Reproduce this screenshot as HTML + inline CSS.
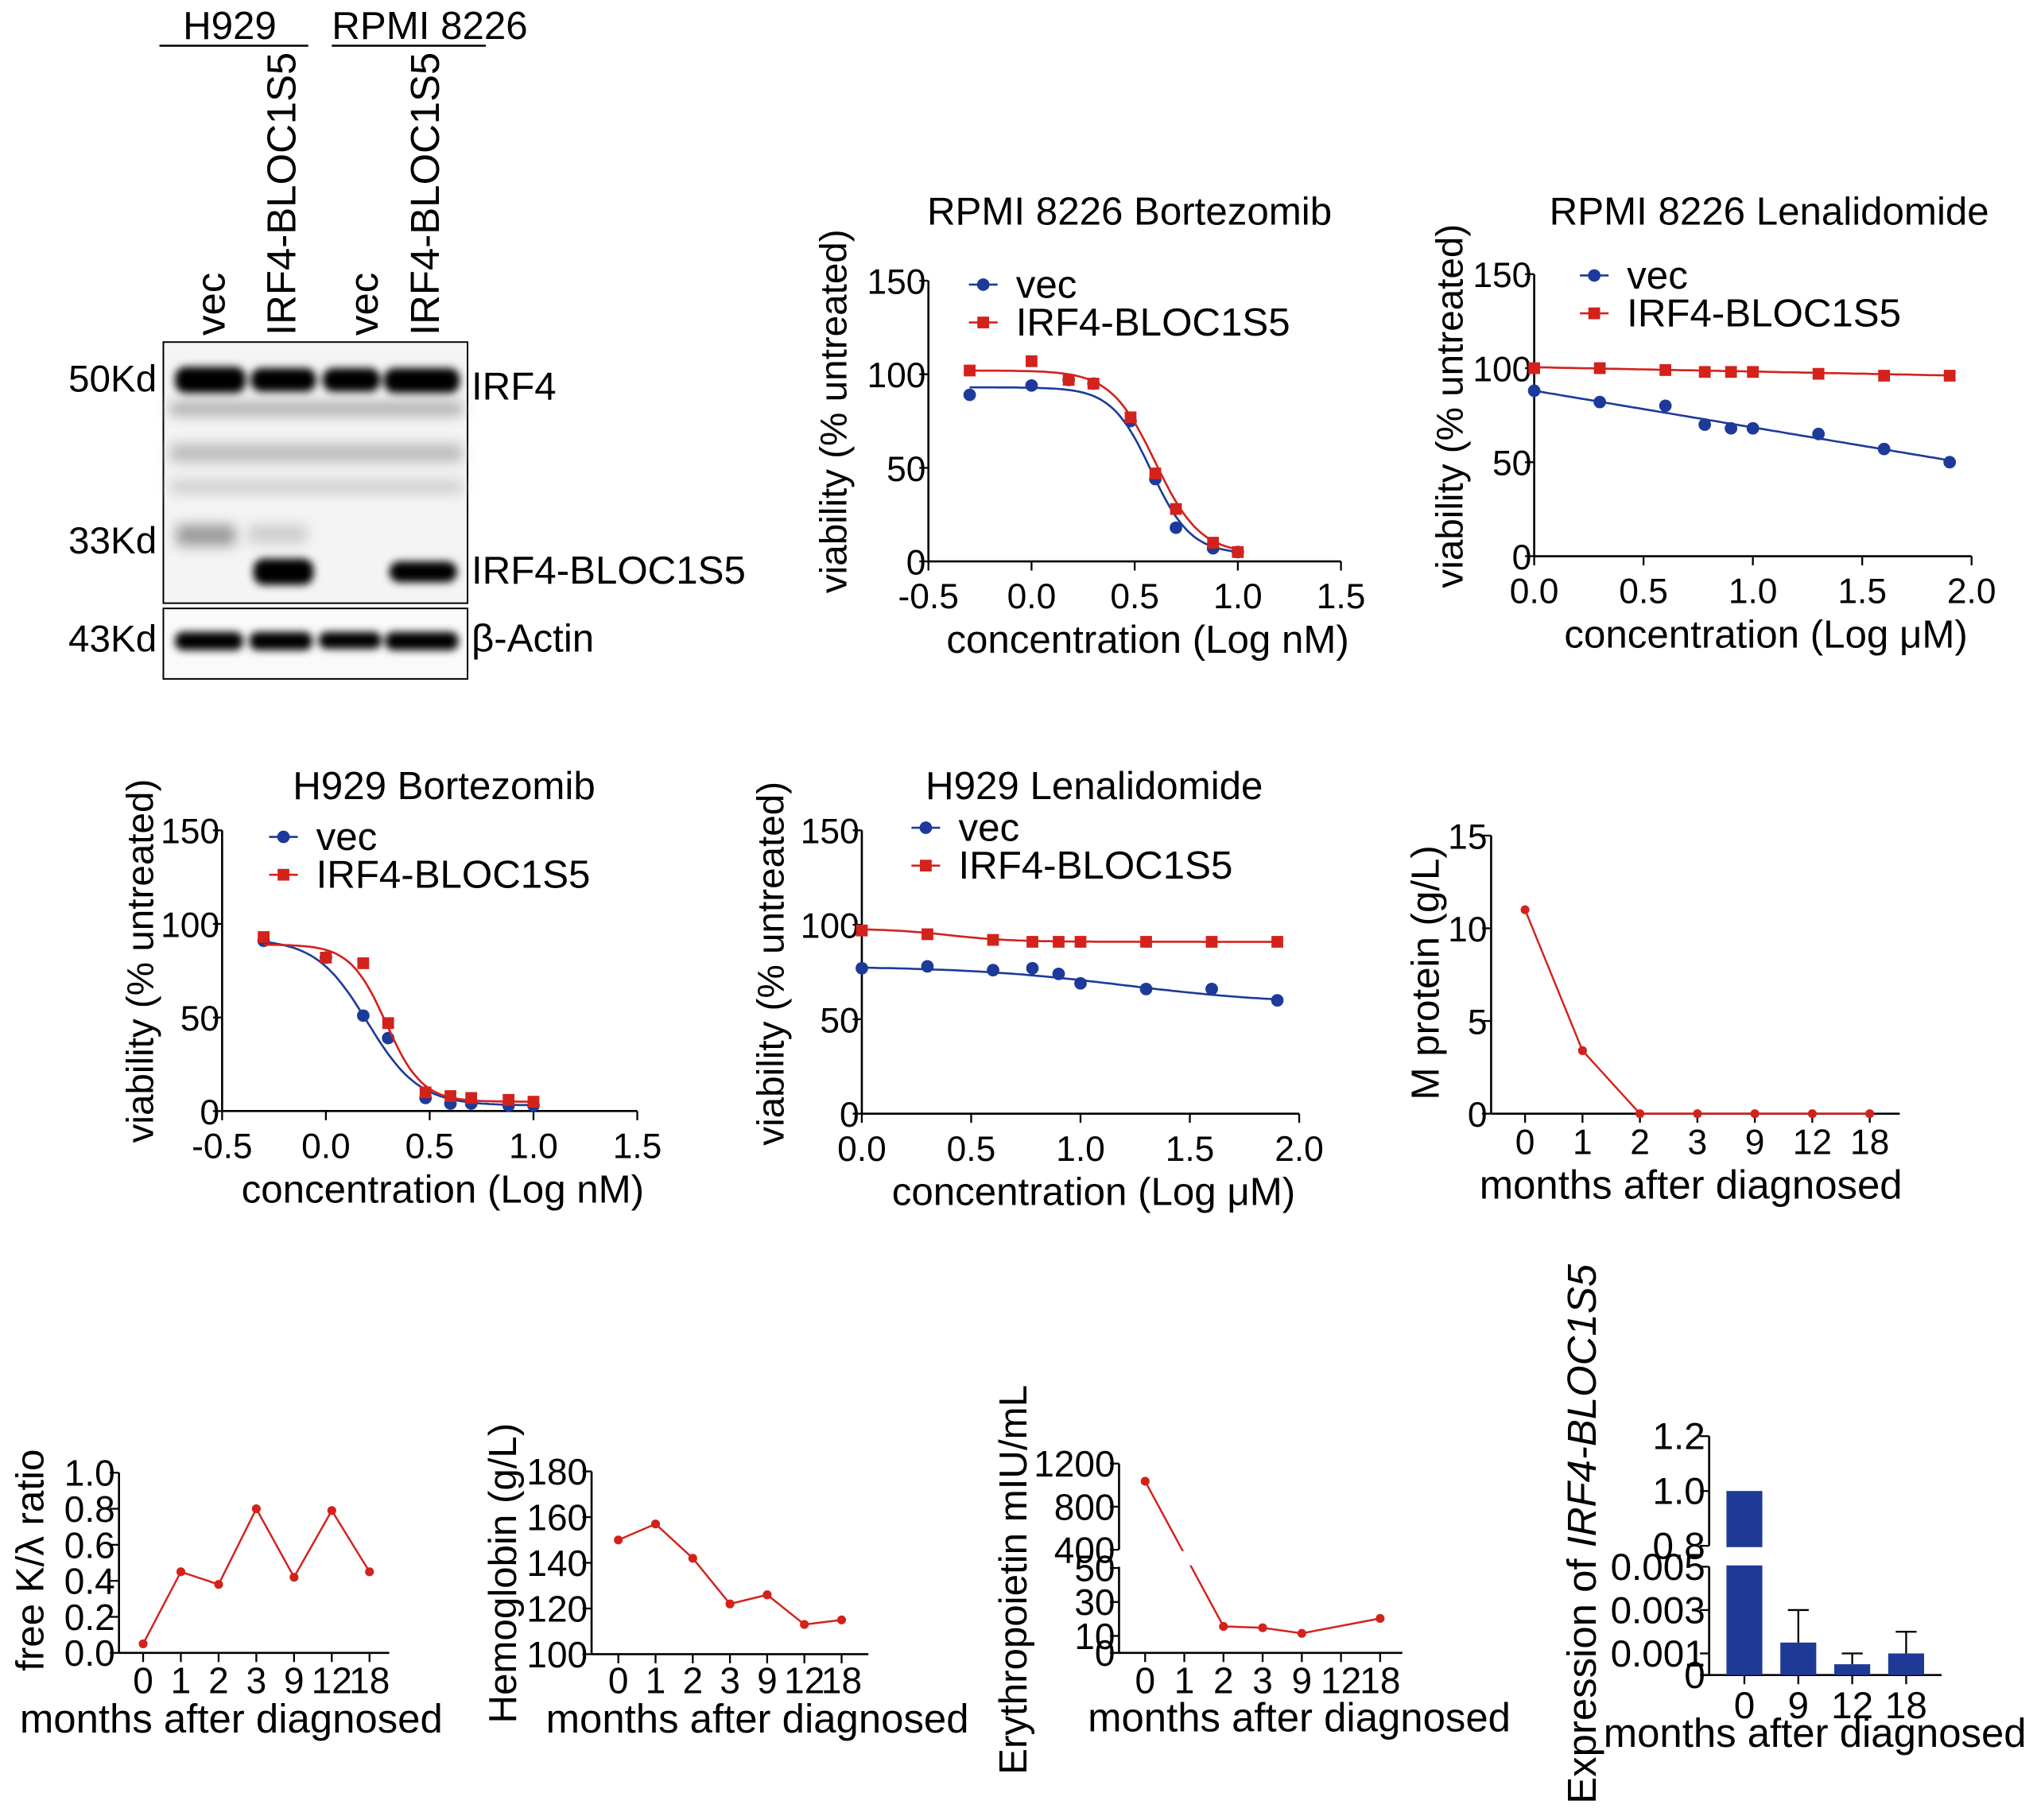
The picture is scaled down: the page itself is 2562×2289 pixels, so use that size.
<!DOCTYPE html>
<html><head><meta charset="utf-8"><style>
html,body{margin:0;padding:0;background:#fff}
svg{display:block}
text{font-family:"Liberation Sans",sans-serif;fill:#000}
</style></head><body>
<svg id="fig" width="2562" height="2289" viewBox="0 0 1560 1394" xmlns="http://www.w3.org/2000/svg">
<defs>
<filter id="blur" x="-20%" y="-50%" width="140%" height="200%"><feGaussianBlur stdDeviation="3"/></filter>
<filter id="blur2" x="-20%" y="-50%" width="140%" height="200%"><feGaussianBlur stdDeviation="5"/></filter>
</defs>
<g id="blot">
 <text x="140" y="30" font-size="30">H929</text>
 <text x="254" y="30" font-size="30">RPMI 8226</text>
 <line x1="122" y1="35" x2="236" y2="35" stroke="#000" stroke-width="1.5"/>
 <line x1="254" y1="35" x2="372" y2="35" stroke="#000" stroke-width="1.5"/>
 <text transform="translate(172,257) rotate(-90)" font-size="31">vec</text>
 <text transform="translate(226,257) rotate(-90)" font-size="31">IRF4-BLOC1S5</text>
 <text transform="translate(289,257) rotate(-90)" font-size="31">vec</text>
 <text transform="translate(336,257) rotate(-90)" font-size="31">IRF4-BLOC1S5</text>
 <rect x="125" y="262" width="233" height="200" fill="#f4f4f4" stroke="#000" stroke-width="1.2"/>
 <g filter="url(#blur2)">
  <rect x="130" y="308" width="224" height="10" fill="#aaa"/>
  <rect x="130" y="340" width="224" height="14" fill="#bbb"/>
  <rect x="130" y="368" width="224" height="10" fill="#ccc"/>
  <rect x="135" y="402" width="45" height="16" fill="#999"/>
  <rect x="190" y="402" width="45" height="14" fill="#ccc"/>
 </g>
 <g filter="url(#blur)">
  <rect x="134" y="281" width="54" height="20" rx="8" fill="#000"/>
  <rect x="192" y="282" width="50" height="18" rx="8" fill="#000"/>
  <rect x="247" y="282" width="44" height="18" rx="8" fill="#000"/>
  <rect x="294" y="282" width="58" height="19" rx="8" fill="#000"/>
  <rect x="194" y="428" width="46" height="20" rx="8" fill="#000"/>
  <rect x="298" y="430" width="52" height="16" rx="8" fill="#000"/>
 </g>
 <rect x="125" y="466" width="233" height="54" fill="#fafafa" stroke="#000" stroke-width="1.2"/>
 <g filter="url(#blur)">
  <rect x="134" y="484" width="52" height="14" rx="6" fill="#000"/>
  <rect x="191" y="484" width="48" height="14" rx="6" fill="#000"/>
  <rect x="244" y="484" width="48" height="13" rx="6" fill="#000"/>
  <rect x="295" y="484" width="56" height="14" rx="6" fill="#000"/>
 </g>
 <text x="120" y="300" font-size="29" text-anchor="end">50Kd</text>
 <text x="120" y="424" font-size="29" text-anchor="end">33Kd</text>
 <text x="120" y="499" font-size="29" text-anchor="end">43Kd</text>
 <text x="361" y="306" font-size="30">IRF4</text>
 <text x="361" y="447" font-size="30">IRF4-BLOC1S5</text>
 <text x="361" y="499" font-size="30">β-Actin</text>
</g>
</svg>
<script>
// ---------- data ----------
const bortX = [-0.3, 0, 0.18, 0.3, 0.48, 0.6, 0.7, 0.88, 1.0];
const lenaX = [0, 0.3, 0.6, 0.78, 0.9, 1.0, 1.3, 1.6, 1.9];
const rpmiBortVec = [89, 94, 97, 95, 75, 44, 18, 7, 5];
const rpmiBortIrf = [102, 107, 97, 95, 77, 47, 28, 10, 5];
const rpmiLenaVec = [88, 82, 80, 70, 68, 68, 65, 57, 50];
const rpmiLenaIrf = [100, 100, 99, 98, 98, 98, 97, 96, 96];
const h929BortVec = [91, 82, 51, 39, 7, 4, 4, 3, 3];
const h929BortIrf = [93, 82, 79, 47, 10, 8, 7, 6, 5];
const h929LenaVec = [77, 78, 76, 77, 74, 69, 66, 66, 60];
const h929LenaIrf = [97, 95, 92, 91, 91, 91, 91, 91, 91];
// sigmoid fit parameters [top, bottom, logEC50, hill]; linear fits [intercept, slope]
const fitRpmiBortVec = [93, 4, 0.58, 4.5];
const fitRpmiBortIrf = [102, 4, 0.6, 4];
const fitH929BortVec = [92, 3, 0.2, 3.5];
const fitH929BortIrf = [89, 5, 0.29, 5];
const fitRpmiLenaVec = [88, -19.5];
const fitRpmiLenaIrf = [100.5, -2.3];
const fitH929LenaVec = [78, 58, 1.2, 1.2];
const fitH929LenaIrf = [98, 91, 0.4, 3];
const viaTicks = [0, 50, 100, 150];
const bortTicks = [-0.5, 0, 0.5, 1.0, 1.5];
const lenaTicks = [0, 0.5, 1.0, 1.5, 2.0];
const months = ['0', '1', '2', '3', '9', '12', '18'];
const mProtein = [11, 3.4, 0, 0, 0, 0, 0];
const mTicks = [0, 5, 10, 15];
const klRatio = [0.05, 0.45, 0.38, 0.8, 0.42, 0.79, 0.45];
const klTicks = [0.0, 0.2, 0.4, 0.6, 0.8, 1.0];
const hemoglobin = [150, 157, 142, 122, 126, 113, 115];
const hbTicks = [100, 120, 140, 160, 180];
const epoMonths = ['0', '2', '3', '9', '18'];
const epo = [1036, 15.6, 14.8, 11.5, 20.3];
const epoLowTicks = [0, 10, 30, 50];
const epoHighTicks = [400, 800, 1200];
const exprMonths = ['0', '9', '12', '18'];
const expr = [1.0, 0.0015, 0.0005, 0.001];
const exprErr = [0, 0.0015, 0.0005, 0.001];
const exprLowTicks = [0, 0.001, 0.003, 0.005];
const exprLowLabels = ['0', '0.001', '0.003', '0.005'];
const exprHighTicks = [0.8, 1.0, 1.2];

const NS = 'http://www.w3.org/2000/svg';
const svg = document.getElementById('fig');
const BLUE = '#1d3a9a', RED = '#d3221c';
function mk(tag, attrs, parent, txt) {
  const e = document.createElementNS(NS, tag);
  for (const k in attrs) e.setAttribute(k, attrs[k]);
  if (txt !== undefined) e.textContent = txt;
  (parent || svg).appendChild(e);
  return e;
}
function fmt(v, d) { return v.toFixed(d); }
function lin(d0, d1, r0, r1) { return v => r0 + (v - d0) / (d1 - d0) * (r1 - r0); }
function marker(g, x, y, color, sq) {
  if (sq) mk('rect', {x: x - 4.5, y: y - 4.5, width: 9, height: 9, fill: color}, g);
  else mk('circle', {cx: x, cy: y, r: 4.8, fill: color}, g);
}
function fitVal(p, x) {
  if (p.length === 2) return p[0] + p[1] * x;
  return p[1] + (p[0] - p[1]) / (1 + Math.pow(10, (x - p[2]) * p[3]));
}

function doseChart(cfg) {
  const g = mk('g', {});
  
  
  const sx = lin(cfg.xd[0], cfg.xd[1], cfg.x0, cfg.x1);
  const sy = lin(0, 150, cfg.y0, cfg.y1);
  mk('line', {x1: cfg.x0, y1: cfg.y0, x2: cfg.x0, y2: cfg.y1, stroke: '#000', 'stroke-width': 1.6}, g);
  mk('line', {x1: cfg.x0, y1: cfg.y0, x2: cfg.x1, y2: cfg.y0, stroke: '#000', 'stroke-width': 1.6}, g);
  viaTicks.forEach(t => {
    const y = sy(t);
    mk('line', {x1: cfg.x0 - 7, y1: y, x2: cfg.x0, y2: y, stroke: '#000', 'stroke-width': 1.4}, g);
    const tl = mk('text', {x: cfg.x0 - 2, y: y + 10, 'font-size': 27, 'text-anchor': 'end'}, g, String(t));
    
    
  });
  cfg.xt.forEach(t => {
    const x = sx(t);
    mk('line', {x1: x, y1: cfg.y0, x2: x, y2: cfg.y0 + 7, stroke: '#000', 'stroke-width': 1.4}, g);
    const tl = mk('text', {x: x, y: cfg.y0 + 36, 'font-size': 27, 'text-anchor': 'middle'}, g, fmt(t, 1));
    
    
  });
  const series = [[cfg.vec, cfg.fitVec, BLUE, false], [cfg.irf, cfg.fitIrf, RED, true]];
  series.forEach(([vals, fit, col, sq]) => {
    let d = '';
    const xs = cfg.xs;
    const a = xs[0], b = xs[xs.length - 1];
    for (let i = 0; i <= 80; i++) {
      const xv = a + (b - a) * i / 80;
      d += (i ? 'L' : 'M') + sx(xv).toFixed(1) + ',' + sy(fitVal(fit, xv)).toFixed(1);
    }
    const p = mk('path', {d: d, fill: 'none', stroke: col, 'stroke-width': 1.6}, g);
    
    
    vals.forEach((v, i) => marker(g, sx(xs[i]), sy(v), col, sq));
  });
  const t = mk('text', {x: cfg.tx, y: cfg.ty, 'font-size': 30, 'text-anchor': 'middle'}, g, cfg.title);
  
  
  const xl = mk('text', {x: (cfg.x0 + cfg.x1) / 2 + 10, y: cfg.y0 + 70, 'font-size': 30, 'text-anchor': 'middle'}, g, cfg.xlabel);
  
  
  const yl = mk('text', {transform: `translate(${cfg.yl},${cfg.y0 - 115}) rotate(-90)`, 'font-size': 29, 'text-anchor': 'middle'}, g, 'viability (% untreated)');
  
  
  [['vec', BLUE, false, 0], ['IRF4-BLOC1S5', RED, true, 29]].forEach(([lab, col, sq, dy]) => {
    const lg = mk('g', {}, g);
    
    
    mk('line', {x1: cfg.lx, y1: cfg.ly + dy, x2: cfg.lx + 22, y2: cfg.ly + dy, stroke: col, 'stroke-width': 1.6}, lg);
    marker(lg, cfg.lx + 11, cfg.ly + dy, col, sq);
    mk('text', {x: cfg.lx + 36, y: cfg.ly + dy + 10, 'font-size': 30}, lg, lab);
  });
}

doseChart({name: 'rpmi-bortezomib-chart', x0: 711, x1: 1027, y0: 430, y1: 215, xd: [-0.5, 1.5], xt: bortTicks, xs: bortX,
  vec: rpmiBortVec, irf: rpmiBortIrf, fitVec: fitRpmiBortVec, fitIrf: fitRpmiBortIrf,
  title: 'RPMI 8226 Bortezomib', tx: 865, ty: 172, xlabel: 'concentration (Log nM)', yl: 648, lx: 742, ly: 218});
doseChart({name: 'rpmi-lenalidomide-chart', x0: 1175, x1: 1510, y0: 426, y1: 210, xd: [0, 2], xt: lenaTicks, xs: lenaX,
  vec: rpmiLenaVec, irf: rpmiLenaIrf, fitVec: fitRpmiLenaVec, fitIrf: fitRpmiLenaIrf,
  title: 'RPMI 8226 Lenalidomide', tx: 1355, ty: 172, xlabel: 'concentration (Log μM)', yl: 1120, lx: 1210, ly: 211});
doseChart({name: 'h929-bortezomib-chart', x0: 170, x1: 488, y0: 851, y1: 636, xd: [-0.5, 1.5], xt: bortTicks, xs: bortX,
  vec: h929BortVec, irf: h929BortIrf, fitVec: fitH929BortVec, fitIrf: fitH929BortIrf,
  title: 'H929 Bortezomib', tx: 340, ty: 612, xlabel: 'concentration (Log nM)', yl: 117, lx: 206, ly: 641});
doseChart({name: 'h929-lenalidomide-chart', x0: 660, x1: 995, y0: 853, y1: 636, xd: [0, 2], xt: lenaTicks, xs: lenaX,
  vec: h929LenaVec, irf: h929LenaIrf, fitVec: fitH929LenaVec, fitIrf: fitH929LenaIrf,
  title: 'H929 Lenalidomide', tx: 838, ty: 612, xlabel: 'concentration (Log μM)', yl: 600, lx: 698, ly: 634});

function catAxis(g, x0, x1, y0, xs, labels, fs, ly) {
  mk('line', {x1: x0, y1: y0, x2: x1, y2: y0, stroke: '#000', 'stroke-width': 1.6}, g);
  labels.forEach((l, i) => {
    mk('line', {x1: xs[i], y1: y0, x2: xs[i], y2: y0 + 7, stroke: '#000', 'stroke-width': 1.4}, g);
    const t = mk('text', {x: xs[i], y: ly, 'font-size': fs, 'text-anchor': 'middle'}, g, l);
    
    
  });
}
function yAxis(g, x0, ya, yb, ticks, sy, labels, fs) {
  mk('line', {x1: x0, y1: ya, x2: x0, y2: yb, stroke: '#000', 'stroke-width': 1.6}, g);
  ticks.forEach((t, i) => {
    const y = sy(t);
    mk('line', {x1: x0 - 7, y1: y, x2: x0, y2: y, stroke: '#000', 'stroke-width': 1.4}, g);
    const tl = mk('text', {x: x0 - 3, y: y + 10, 'font-size': fs, 'text-anchor': 'end'}, g, labels[i]);
    
    
  });
}
function titles(g, xt, xx, xy, ytxt, yx, yy) {
  const a = mk('text', {x: xx, y: xy, 'font-size': 31, 'text-anchor': 'middle'}, g, xt);
  
  
  const b = mk('text', {transform: `translate(${yx},${yy}) rotate(-90)`, 'font-size': 30, 'text-anchor': 'middle'}, g, ytxt);
  
  
  return b;
}
function redLine(g, pts) {
  const p = mk('polyline', {points: pts.map(p => p.join(',')).join(' '), fill: 'none', stroke: RED, 'stroke-width': 1.5}, g);
  
  
  pts.forEach(q => mk('circle', {cx: q[0], cy: q[1], r: 3.4, fill: RED}, g));
}

// M protein
(function () {
  const g = mk('g', {});
  
  
  const sy = lin(0, 15, 853, 640);
  const catX = i => 1168 + i * 44;
  const xs = months.map((m, i) => catX(i));
  yAxis(g, 1142, 853, 640, mTicks, sy, mTicks.map(String), 27);
  catAxis(g, 1142, 1455, 853, xs, months, 27, 884);
  redLine(g, mProtein.map((v, i) => [catX(i), sy(v)]));
  titles(g, 'months after diagnosed', 1295, 918, 'M protein (g/L)', 1102, 745);
})();
// free K/lambda
(function () {
  const g = mk('g', {});
  
  
  const sy = lin(0, 1, 1266, 1128);
  const xs = months.map((m, i) => 109.5 + i * 28.9);
  yAxis(g, 91, 1266, 1128, klTicks, sy, klTicks.map(v => fmt(v, 1)), 28);
  catAxis(g, 91, 298, 1266, xs, months, 28, 1297);
  redLine(g, klRatio.map((v, i) => [xs[i], sy(v)]));
  titles(g, 'months after diagnosed', 177, 1327, 'free K/λ ratio', 33, 1195);
})();
// Hemoglobin
(function () {
  const g = mk('g', {});
  
  
  const sy = lin(100, 180, 1267, 1127);
  const xs = months.map((m, i) => 473.5 + i * 28.5);
  yAxis(g, 453, 1267, 1127, hbTicks, sy, hbTicks.map(String), 28);
  catAxis(g, 453, 665, 1267, xs, months, 28, 1297);
  redLine(g, hemoglobin.map((v, i) => [xs[i], sy(v)]));
  titles(g, 'months after diagnosed', 580, 1327, 'Hemoglobin (g/L)', 395, 1205);
})();
// Erythropoietin (broken axis)
(function () {
  const g = mk('g', {});
  
  
  const syLow = lin(0, 50, 1266, 1201);
  const syHigh = lin(400, 1200, 1187, 1121);
  const sy = v => v > 60 ? syHigh(v) : syLow(v);
  const xs = months.map((m, i) => 877 + i * 30);
  yAxis(g, 857, 1266, 1200, epoLowTicks, syLow, epoLowTicks.map(String), 28);
  yAxis(g, 857, 1187, 1121, epoHighTicks, syHigh, epoHighTicks.map(String), 28);
  catAxis(g, 853, 1074, 1266, xs, months, 28, 1297);
  const pts = epo.map((v, i) => [xs[months.indexOf(epoMonths[i])], sy(v)]);
  redLine(g, pts);
  mk('rect', {x: 900, y: 1188, width: 16, height: 11, fill: '#fff'}, g);
  titles(g, 'months after diagnosed', 995, 1326, 'Erythropoietin mIU/mL', 786, 1210);
})();
// Expression bar chart
(function () {
  const g = mk('g', {});
  
  
  const syLow = lin(0, 0.005, 1283, 1200);
  const syHigh = lin(0.8, 1.2, 1184, 1100);
  const xs = exprMonths.map((m, i) => 1336 + i * 41.3);
  yAxis(g, 1309, 1283, 1200, exprLowTicks, syLow, exprLowLabels, 29);
  yAxis(g, 1309, 1184, 1100, exprHighTicks, syHigh, exprHighTicks.map(v => fmt(v, 1)), 29);
  catAxis(g, 1303, 1487, 1283, xs, exprMonths, 29, 1316);
  expr.forEach((v, i) => {
    const top = v > 0.1 ? syHigh(v) : syLow(v);
    const b = mk('rect', {x: xs[i] - 13.75, y: top, width: 27.5, height: 1283 - top, fill: '#1f3a96'}, g);
    
    
    if (exprErr[i] > 0) {
      const ye = syLow(v + exprErr[i]);
      mk('line', {x1: xs[i], y1: top, x2: xs[i], y2: ye, stroke: '#000', 'stroke-width': 1.4}, g);
      mk('line', {x1: xs[i] - 8, y1: ye, x2: xs[i] + 8, y2: ye, stroke: '#000', 'stroke-width': 1.4}, g);
    }
  });
  mk('rect', {x: 1318, y: 1185, width: 36, height: 14, fill: '#fff'}, g);
  const yl = titles(g, 'months after diagnosed', 1390, 1338, '', 1222, 1175);
  yl.setAttribute('font-size', 31);
  mk('tspan', {}, yl, 'Expression of ');
  mk('tspan', {'font-style': 'italic'}, yl, 'IRF4-BLOC1S5');
})();
</script>
</body></html>
